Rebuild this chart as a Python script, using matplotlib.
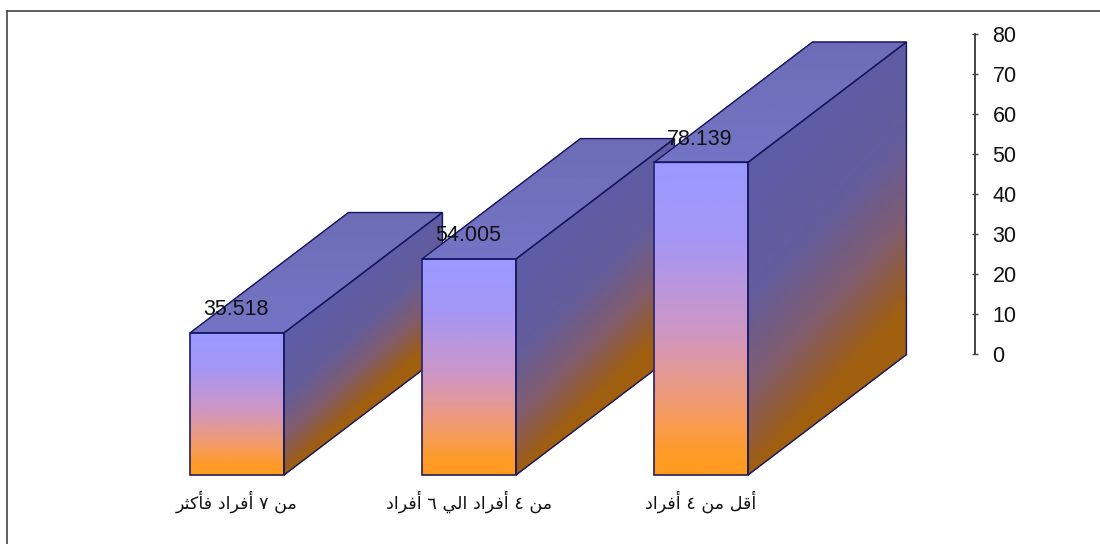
import numpy as np
import matplotlib
matplotlib.use("Agg")
import matplotlib.pyplot as plt
from matplotlib.colors import LinearSegmentedColormap
from matplotlib.lines import Line2D
from matplotlib.patches import Polygon

categories = ["من ٧ أفراد فأكثر", "من ٤ أفراد الي ٦ أفراد", "أقل من ٤ أفراد"]
values = [35.518, 54.005, 78.139]
value_labels = ["35.518", "54.005", "78.139"]
axis_ticks = [0, 10, 20, 30, 40, 50, 60, 70, 80]

W, H = 1100, 544
BAR_W = 0.405
DEPTH_X = 0.683
DEPTH_Y = 30.1
EDGE = "#16165e"
FONT = "Liberation Sans"

# Arabic forms: isolated, final, initial, medial
FORMS = {
    "ا": (0xFE8D, 0xFE8E), "أ": (0xFE83, 0xFE84), "د": (0xFEA9, 0xFEAA), "ر": (0xFEAD, 0xFEAE),
    "ث": (0xFE99, 0xFE9A, 0xFE9B, 0xFE9C), "ف": (0xFED1, 0xFED2, 0xFED3, 0xFED4),
    "ق": (0xFED5, 0xFED6, 0xFED7, 0xFED8), "ك": (0xFED9, 0xFEDA, 0xFEDB, 0xFEDC),
    "ل": (0xFEDD, 0xFEDE, 0xFEDF, 0xFEE0), "م": (0xFEE1, 0xFEE2, 0xFEE3, 0xFEE4),
    "ن": (0xFEE5, 0xFEE6, 0xFEE7, 0xFEE8), "ي": (0xFEF1, 0xFEF2, 0xFEF3, 0xFEF4),
}


def shape(text):
    out = []
    for i, ch in enumerate(text):
        f = FORMS.get(ch)
        if f is None:
            out.append(ch)
            continue
        prev = text[i - 1] if i else " "
        nxt = text[i + 1] if i + 1 < len(text) else " "
        joins_prev = prev in FORMS and len(FORMS[prev]) == 4
        joins_next = nxt in FORMS and len(f) == 4
        if joins_prev and joins_next:
            out.append(chr(f[3]))
        elif joins_prev:
            out.append(chr(f[1]))
        elif joins_next:
            out.append(chr(f[2]))
        else:
            out.append(chr(f[0]))
    return "".join(reversed(out))


def rgb(*stops):
    return LinearSegmentedColormap.from_list(
        "g", [(p, (r / 255, g / 255, b / 255)) for p, (r, g, b) in stops], N=256)


front_cmap = rgb((0, (153, 153, 255)), (0.25, (165, 150, 245)), (0.55, (208, 150, 195)),
                 (0.8, (245, 155, 100)), (0.93, (255, 155, 40)), (1, (255, 155, 30)))
side_cmap = rgb((0, (92, 92, 168)), (0.45, (100, 92, 155)), (0.72, (128, 92, 112)),
                (0.92, (150, 92, 45)), (1, (160, 95, 15)))
top_cmap = rgb((0, (116, 116, 198)), (1, (108, 108, 182)))

fig = plt.figure(figsize=(W / 100, H / 100), dpi=100, facecolor="white")
ax = fig.add_axes([0, 0, 1, 1])
ax.set_xlim(-237 / 232, (W - 237) / 232)
ax.set_ylim(-(H - 475) / 4, 475 / 4)
ax.axis("off")

s, t = np.meshgrid(np.linspace(0, 1, 40), np.linspace(0, 1, 40))
for i, (v, lab, cat) in enumerate(zip(values, value_labels, categories)):
    z = 2 + i * 2
    x0 = i - BAR_W / 2
    x1 = i + BAR_W / 2
    # side face
    ax.pcolormesh(x1 + s * DEPTH_X, v * (1 - t) + s * DEPTH_Y, np.clip(t + 0.15 * s, 0, 1),
                  cmap=side_cmap, vmin=0, vmax=1, shading="gouraud", zorder=z)
    # top face
    ax.pcolormesh(x0 + t * BAR_W + s * DEPTH_X, v + s * DEPTH_Y, s,
                  cmap=top_cmap, vmin=0, vmax=1, shading="gouraud", zorder=z)
    # front face
    ax.pcolormesh(x0 + s * BAR_W, v * (1 - t), t,
                  cmap=front_cmap, vmin=0, vmax=1, shading="gouraud", zorder=z)
    ax.bar(i, v, BAR_W, facecolor="none", edgecolor=EDGE, linewidth=1.1, zorder=z + 0.5)
    ax.add_patch(Polygon([(x1, 0), (x1 + DEPTH_X, DEPTH_Y), (x1 + DEPTH_X, v + DEPTH_Y), (x1, v)],
                         closed=True, fill=False, edgecolor=EDGE, linewidth=1.0, zorder=z + 0.5))
    ax.add_patch(Polygon([(x0, v), (x0 + DEPTH_X, v + DEPTH_Y), (x1 + DEPTH_X, v + DEPTH_Y), (x1, v)],
                         closed=True, fill=False, edgecolor=EDGE, linewidth=1.0, zorder=z + 0.5))
    ax.annotate(lab, (i, v), xytext=(-0.7, 16.6), textcoords="offset points", ha="center", va="center",
                family=FONT, fontsize=15.5, color="#111111", zorder=20)
    ax.annotate(shape(cat), (i, 0), xytext=(0, -19), textcoords="offset points", ha="center", va="center",
                family="DejaVu Sans", fontsize=12.6, color="#111111", zorder=20)

# value axis, on the back wall
ax2 = fig.add_axes([975 / W, (H - 354) / H, 0.0001, 320 / H], facecolor="none")
ax2.set_ylim(0, 80)
ax2.set_xticks([])
ax2.set_yticks(axis_ticks)
ax2.yaxis.tick_right()
for side in ("left", "top", "bottom"):
    ax2.spines[side].set_visible(False)
ax2.spines["right"].set_color("#444444")
ax2.spines["right"].set_linewidth(1.4)
ax2.tick_params(axis="y", direction="inout", length=5, width=1, color="#444444",
                pad=10, labelsize=15.5, labelcolor="#111111")
for label in ax2.get_yticklabels():
    label.set_family(FONT)

# outer frame: left and top only
frame = dict(color="#444444", linewidth=1.2, transform=fig.transFigure)
fig.add_artist(Line2D([7.2 / W, 7.2 / W], [0, 1 - 10.5 / H], **frame))
fig.add_artist(Line2D([7.2 / W, 1], [1 - 10.5 / H, 1 - 10.5 / H], **frame))

fig.savefig("out.png", dpi=100, facecolor="white")
